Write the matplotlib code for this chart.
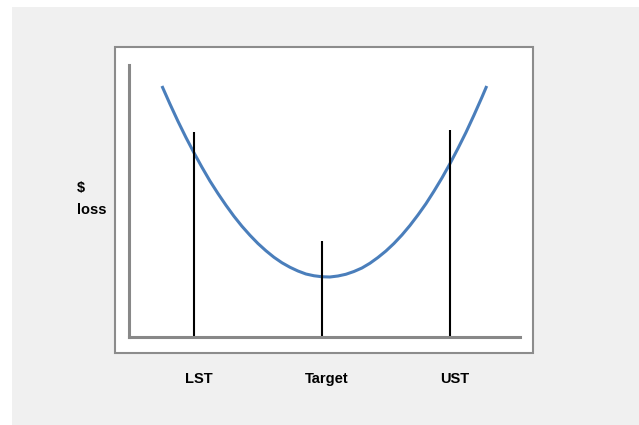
#!/usr/bin/env python3
# -*- coding: utf-8 -*-
"""
Taguchi-style loss function sketch: $ loss versus deviation from target
"""
import matplotlib
matplotlib.use('Agg')
import matplotlib.pyplot as plt
from matplotlib.patches import Rectangle

# deviation from target (units) and the $ loss
dev_x = [-5.0, -4.75, -4.5, -4.25, -4.0, -3.75, -3.5, -3.25, -3.0, -2.75,
         -2.5, -2.25, -2.0, -1.75, -1.5, -1.25, -1.0, -0.75, -0.5, -0.25,
         0.0, 0.25, 0.5, 0.75, 1.0, 1.25, 1.5, 1.75, 2.0, 2.25, 2.5, 2.75,
         3.0, 3.25, 3.5, 3.75, 4.0, 4.25, 4.5, 4.75, 5.0, 5.15]
loss_y = [10.04, 9.32, 8.63, 7.98, 7.37, 6.79, 6.24, 5.74, 5.27, 4.83,
          4.43, 4.07, 3.74, 3.45, 3.19, 2.97, 2.79, 2.64, 2.52, 2.45,
          2.41, 2.40, 2.44, 2.51, 2.62, 2.76, 2.95, 3.18, 3.44, 3.74, 4.08, 4.46,
          4.88, 5.33, 5.83, 6.36, 6.93, 7.54, 8.18, 8.87, 9.59, 10.04]

# specification markers
spec_labels = ['LST', 'Target', 'UST']
spec_x      = [-4.0, 0.0, 4.0]
spec_top    = [8.2, 3.84, 8.28]

W, H = 639, 425
FONT = 'Liberation Sans'


def px(x, y):
    '''pixel position (from top-left) to figure fraction'''
    return x / W, 1 - y / H


fig = plt.figure(figsize=(W / 100, H / 100), dpi=100)
fig.patch.set_facecolor('white')

# light gray panel and white chart frame
fig.patches.append(Rectangle(px(12, H), (W - 12) / W, (H - 7) / H,
                             transform=fig.transFigure, facecolor='#f0f0f0',
                             edgecolor='none', zorder=0))
fig.patches.append(Rectangle(px(115, 353), 418 / W, 306 / H,
                             transform=fig.transFigure, facecolor='white',
                             edgecolor='#8c8c8c', linewidth=1.5, zorder=1))

left, bottom = px(129, 337)
axis = fig.add_axes([left, bottom, 391 / W, 272 / H])
axis.set_facecolor('none')
axis.set_zorder(2)

axis.plot(dev_x, loss_y, color='#4a7ebb', linewidth=2.2,
          solid_capstyle='butt', solid_joinstyle='round')
axis.vlines(spec_x, 0, spec_top, colors='black', linewidth=1.5)

axis.set_xlim(-6.03, 6.19)
axis.set_ylim(0, 10.88)

for side in ['top', 'right']:
    axis.spines[side].set_visible(False)
for side in ['left', 'bottom']:
    axis.spines[side].set_color('#888888')
    axis.spines[side].set_linewidth(2.2)

axis.set_yticks([])
axis.set_xticks([x + 0.15 for x in spec_x])
axis.set_xticklabels(spec_labels, fontfamily=FONT, fontweight='bold',
                     fontsize=10.5)
axis.tick_params(axis='x', length=0, pad=25)

fig.text(*px(77, 199), '\\$\nloss', ha='left', va='center',
         multialignment='left', fontfamily=FONT, fontweight='bold',
         fontsize=10.5, linespacing=1.7)

fig.savefig('out.png', dpi=100, facecolor='white')
